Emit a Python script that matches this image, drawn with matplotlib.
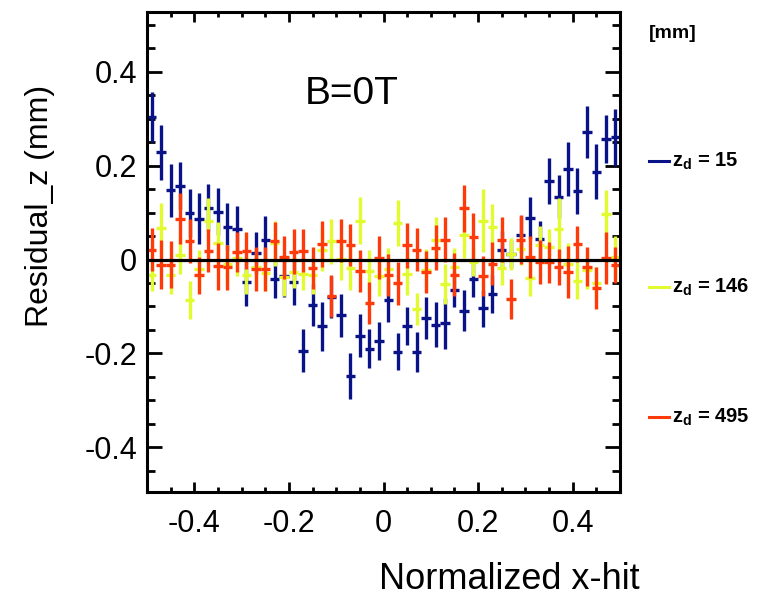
import numpy as np
import matplotlib
matplotlib.use("Agg")
from matplotlib import pyplot as plt
from matplotlib.lines import Line2D
from matplotlib.ticker import MultipleLocator

plt.rcParams['font.family'] = ['Liberation Sans', 'DejaVu Sans']
plt.rcParams['mathtext.fontset'] = 'custom'
plt.rcParams['mathtext.rm'] = 'Liberation Sans'
plt.rcParams['mathtext.bf'] = 'Liberation Sans:bold'

# 50 bins over the normalized hit position
bin_edges = np.linspace(-0.5, 0.5, 51)

zd_labels = ['15', '146', '495']

res_15 = [0.303, 0.228, 0.147, 0.157, 0.099, 0.087, 0.110, 0.102, 0.070, 0.064,
          -0.048, 0.014, 0.042, -0.041, -0.035, -0.047, -0.194, -0.097, -0.142, -0.080,
          -0.119, -0.249, -0.162, -0.190, -0.174, -0.087, -0.196, -0.141, -0.197, -0.124,
          -0.139, -0.136, -0.064, -0.109, -0.041, -0.104, -0.073, 0.021, 0.012, 0.053,
          0.088, 0.043, 0.167, 0.134, 0.193, 0.146, 0.271, 0.187, 0.257, 0.260]
err_15 = [0.053, 0.059, 0.056, 0.050, 0.052, 0.054, 0.050, 0.050, 0.050, 0.050,
          0.050, 0.045, 0.050, 0.040, 0.045, 0.050, 0.046, 0.045, 0.052, 0.045,
          0.045, 0.049, 0.045, 0.042, 0.040, 0.045, 0.040, 0.040, 0.043, 0.045,
          0.048, 0.055, 0.037, 0.044, 0.039, 0.040, 0.040, 0.040, 0.030, 0.040,
          0.045, 0.040, 0.049, 0.045, 0.057, 0.049, 0.055, 0.058, 0.051, 0.060]

res_146 = [-0.033, 0.067, -0.034, 0.009, -0.086, -0.021, 0.081, 0.035, -0.009, 0.004,
           -0.033, -0.015, -0.028, 0.035, -0.038, -0.026, -0.030, -0.034, 0.020, 0.039,
           0.001, -0.019, 0.083, -0.024, -0.036, -0.020, 0.077, -0.031, -0.105, -0.023,
           0.042, -0.052, -0.016, 0.052, -0.006, 0.083, 0.069, -0.018, 0.012, 0.023,
           -0.040, 0.031, 0.026, 0.065, -0.009, -0.045, -0.023, -0.050, 0.097, 0.005]
err_146 = [0.035, 0.053, 0.040, 0.040, 0.040, 0.042, 0.050, 0.045, 0.040, 0.040,
           0.040, 0.035, 0.040, 0.048, 0.040, 0.035, 0.035, 0.040, 0.045, 0.048,
           0.045, 0.045, 0.050, 0.045, 0.042, 0.045, 0.049, 0.045, 0.034, 0.045,
           0.048, 0.042, 0.040, 0.048, 0.030, 0.068, 0.050, 0.036, 0.034, 0.035,
           0.038, 0.040, 0.040, 0.065, 0.045, 0.040, 0.040, 0.035, 0.052, 0.045]

res_495 = [0.021, -0.011, -0.011, 0.087, 0.039, -0.034, 0.019, -0.014, -0.017, 0.016,
           0.019, -0.020, -0.020, 0.039, 0.005, 0.017, 0.019, -0.018, 0.033, -0.078,
           0.040, 0.031, -0.024, -0.092, 0.004, -0.033, -0.051, 0.030, 0.021, -0.027,
           0.025, 0.042, -0.032, 0.109, 0.048, -0.035, -0.009, 0.042, -0.084, 0.042,
           0.005, -0.006, -0.006, -0.016, -0.026, 0.033, -0.015, -0.061, 0.003, -0.011]
err_495 = [0.046, 0.052, 0.050, 0.055, 0.047, 0.040, 0.046, 0.050, 0.048, 0.043,
           0.040, 0.046, 0.046, 0.041, 0.046, 0.048, 0.045, 0.045, 0.048, 0.045,
           0.046, 0.045, 0.045, 0.045, 0.046, 0.045, 0.045, 0.048, 0.046, 0.045,
           0.048, 0.048, 0.045, 0.050, 0.050, 0.043, 0.046, 0.048, 0.043, 0.052,
           0.045, 0.047, 0.043, 0.038, 0.055, 0.039, 0.042, 0.045, 0.055, 0.038]

colors = ['#0a1288', '#e2fb2e', '#ff3a0a']

if __name__ == "__main__":
    centers = 0.5 * (bin_edges[:-1] + bin_edges[1:])
    half_w = 0.5 * np.diff(bin_edges)

    fig = plt.figure(figsize=(7.6, 5.99), dpi=100)
    ax = fig.add_axes([147 / 760, 1 - 492 / 599, 473 / 760, 480 / 599])

    for res, err, c in zip([res_15, res_146, res_495], [err_15, err_146, err_495], colors):
        ax.errorbar(centers, res, yerr=err, xerr=half_w, fmt='none',
                    ecolor=c, elinewidth=2.4, capsize=0)

    ax.axhline(0, color='black', lw=2.3, zorder=5)

    ax.set_xlim(-0.5, 0.5)
    ax.set_ylim(-0.495, 0.527)
    ax.xaxis.set_major_locator(MultipleLocator(0.2))
    ax.xaxis.set_minor_locator(MultipleLocator(0.05))
    ax.yaxis.set_major_locator(MultipleLocator(0.2))
    ax.yaxis.set_minor_locator(MultipleLocator(0.05))
    ax.xaxis.set_major_formatter(lambda v, p: '0' if abs(v) < 1e-9 else f'{v:g}')
    ax.yaxis.set_major_formatter(lambda v, p: '0' if abs(v) < 1e-9 else f'{v:g}')

    for s in ax.spines.values():
        s.set_linewidth(2.2)
    ax.tick_params(which='both', direction='in', top=True, right=True, width=2.0)
    ax.tick_params(axis='y', which='major', length=11, labelsize=22, pad=7)
    ax.tick_params(axis='y', which='minor', length=5.5)
    ax.tick_params(axis='x', which='major', length=7, labelsize=22, pad=12)
    ax.tick_params(axis='x', which='minor', length=3.5)

    ax.set_xlabel('Normalized x-hit', fontsize=26, ha='right', va='center')
    ax.xaxis.set_label_coords(1.042, -0.183)
    ax.set_ylabel('Residual_z (mm)', fontsize=23, ha='right', va='center')
    ax.yaxis.set_label_coords(-0.226, 0.848)

    ax.text(0.334, 0.83, 'B=0T', transform=ax.transAxes, fontsize=28,
            ha='left', va='center')

    # legend drawn by hand on the right, ROOT style
    fig.text(649 / 760, 1 - 33 / 599, '[mm]', fontsize=14, fontweight='bold',
             ha='left', va='center')
    for k, (lab, c) in enumerate(zip(zd_labels, colors)):
        yk = 1 - [161, 287, 417][k] / 599
        fig.add_artist(Line2D([649 / 760, 669 / 760], [yk, yk], color=c, lw=2.2))
        fig.text(672 / 760, yk, r'$\mathbf{z_{d}}$ = ' + lab, fontsize=14.5,
                 fontweight='bold', ha='left', va='center')

    fig.savefig('out.png', dpi=100)
